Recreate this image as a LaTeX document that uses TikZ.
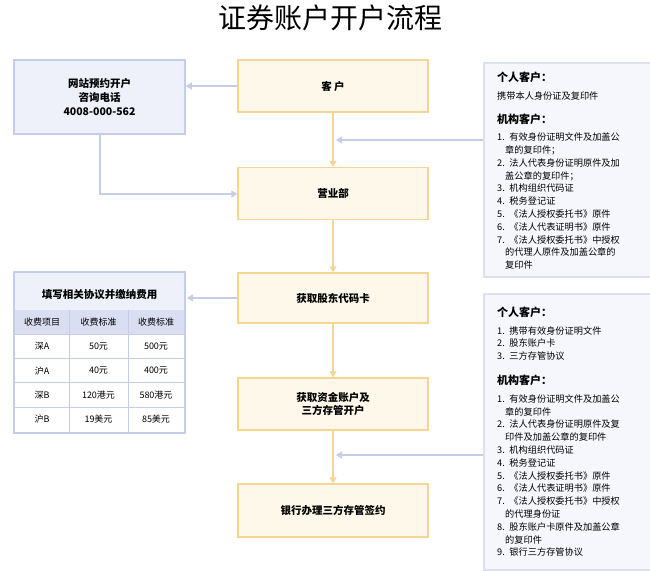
\documentclass[tikz,border=0pt]{standalone}
\usepackage{fontspec}
\setmainfont{Noto Sans CJK SC}
\usetikzlibrary{positioning,arrows.meta}
\definecolor{cream}{HTML}{FDF8EA}
\definecolor{goldline}{HTML}{F5D594}
\definecolor{lav}{HTML}{EEF0FA}
\definecolor{lavline}{HTML}{C6CDE6}
\definecolor{panel}{HTML}{F6F7FC}
\definecolor{panelline}{HTML}{DCE0EF}
\definecolor{headrow}{HTML}{D9DEF2}
\tikzset{
  stepbox/.style={draw=goldline, line width=1.5pt, fill=cream, minimum width=190pt, minimum height=52pt, font=\bfseries\fontsize{10.5}{13}\selectfont, align=center},
  infobox/.style={draw=lavline, line width=1.5pt, fill=lav, align=center},
  goldarrow/.style={draw=goldline, line width=1.5pt, -{Triangle[width=7pt,length=6pt]}},
  lavarrow/.style={draw=lavline, line width=1.5pt, -{Triangle[width=7pt,length=6pt]}},
  listtext/.style={align=left, anchor=north west, font=\fontsize{9.2}{12.3}\selectfont, text width=150pt, inner sep=0pt},
}
\newcommand{\grhead}[1]{{\bfseries\fontsize{11}{14}\selectfont #1}\\[5pt]}
\newcommand{\nl}{\\[0.5pt]}
\begin{document}
\begin{tikzpicture}[x=1pt,y=-1pt]
    \useasboundingbox[fill=white] (0,0) rectangle (650,570);
    \node[font=\fontsize{28}{32}\selectfont] (title) at (330,18) {证券账户开户流程};

    % main steps
    \node[stepbox] (kehu) at (333,86) {客\ 户};
    \node[stepbox] (yyb) at (333,193.5) {营业部};
    \node[stepbox, minimum height=50pt] (gddm) at (333,298) {获取股东代码卡};
    \node[stepbox] (zjzh) at (333,404) {获取资金账户及\\三方存管开户};
    \node[stepbox, minimum height=53pt] (yhbl) at (333,510.5) {银行办理三方存管签约};

    \draw[goldarrow] (kehu) -- (yyb);
    \draw[goldarrow] (yyb) -- (gddm);
    \draw[goldarrow] (gddm) -- (zjzh);
    \draw[goldarrow] (zjzh) -- (yhbl);

    % left: website / phone
    \node[infobox, minimum width=171pt, minimum height=74pt, font=\bfseries\fontsize{10.5}{14}\selectfont] (wzyy) at (99.5,97) {网站预约开户\\咨询电话\\4008-000-562};
    \draw[lavarrow] (kehu.west) -- (wzyy.east |- kehu.west);
    \coordinate (bend) at (100,194);
    \draw[lavarrow] (wzyy.south -| bend) -- (bend) -- (yyb.west |- bend);

    % left: fee table
    \draw[lavline, line width=1.5pt, fill=lav] (14,272) rectangle (185,433);
    \fill[white] (15,310) rectangle (184,432);
    \fill[headrow] (15,310) rectangle (184,334);
    \foreach \y in {358,382,407} \draw[lavline] (15,\y) -- (184,\y);
    \draw[lavline] (15,334) -- (184,334);
    \foreach \x in {69,128} \draw[lavline] (\x,310) -- (\x,432);
    \node[font=\bfseries\fontsize{10.5}{12}\selectfont] (fybt) at (99.5,295) {填写相关协议并缴纳费用};
    \coordinate (tabr) at (187,298);
    \draw[lavarrow] (gddm.west) -- (tabr);
    \foreach \a/\b/\c [count=\i] in {收费项目/收费标准/收费标准, 深A/50元/500元, 沪A/40元/400元, 深B/120港元/580港元, 沪B/19美元/85美元}{
      \pgfmathsetmacro\yy{\i==1 ? 322 : 322+24.3*(\i-1)}
      \node[font=\fontsize{9}{10}\selectfont] at (42,\yy) {\a};
      \node[font=\fontsize{9}{10}\selectfont] at (98.5,\yy) {\b};
      \node[font=\fontsize{9}{10}\selectfont] at (156,\yy) {\c};
    }

    % right: document lists
    \node[draw=panelline, line width=1.5pt, fill=panel, minimum width=168pt, minimum height=214pt, anchor=north west] (dzl1) at (483,62) {};
    \node[draw=panelline, line width=1.5pt, fill=panel, minimum width=168pt, minimum height=276pt, anchor=north west] (dzl2) at (483,293) {};
    \coordinate (hit1) at (336,140);
    \coordinate (hit2) at (336,455);
    \draw[lavarrow] (dzl1.west |- hit1) -- (hit1);
    \draw[lavarrow] (dzl2.west |- hit2) -- (hit2);

    \node[listtext] (gr1) at (497,72) {\grhead{个人客户：}携带本人身份证及复印件\\[12pt]
      \grhead{机构客户：}
      1. 有效身份证明文件及加盖公\nl\hspace*{8pt}章的复印件；\nl
      2. 法人代表身份证明原件及加\nl\hspace*{8pt}盖公章的复印件；\nl
      3. 机构组织代码证\nl
      4. 税务登记证\nl
      5. 《法人授权委托书》原件\nl
      6. 《法人代表证明书》原件\nl
      7. 《法人授权委托书》中授权\nl\hspace*{8pt}的代理人原件及加盖公章的\nl\hspace*{8pt}复印件};
    \node[listtext] (gr2) at (497,307) {\grhead{个人客户：}
      1. 携带有效身份证明文件\nl
      2. 股东账户卡\nl
      3. 三方存管协议\\[13pt]
      \grhead{机构客户：}
      1. 有效身份证明文件及加盖公\nl\hspace*{8pt}章的复印件\nl
      2. 法人代表身份证明原件及复\nl\hspace*{8pt}印件及加盖公章的复印件\nl
      3. 机构组织代码证\nl
      4. 税务登记证\nl
      5. 《法人授权委托书》原件\nl
      6. 《法人代表证明书》原件\nl
      7. 《法人授权委托书》中授权\nl\hspace*{8pt}的代理身份证\nl
      8. 股东账户卡原件及加盖公章\nl\hspace*{8pt}的复印件\nl
      9. 银行三方存管协议};
\end{tikzpicture}
\end{document}
